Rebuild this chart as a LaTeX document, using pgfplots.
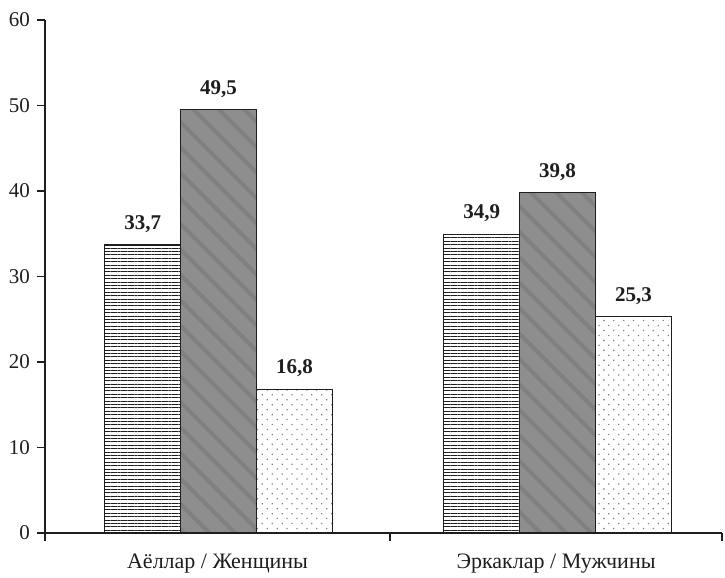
\documentclass[border=0pt]{standalone}
\usepackage{fontspec}
\setmainfont{Liberation Serif}
\usepackage{pgfplots}
\pgfplotsset{compat=1.18}
\usetikzlibrary{patterns.meta}
\definecolor{ink}{HTML}{1E1E1E}
\definecolor{bargray}{HTML}{8E8E8E}
\definecolor{streak}{HTML}{808080}
\begin{document}
\begin{tikzpicture}
\begin{axis}[
  scale only axis, width=338.5pt, height=256.5pt,
  xmin=-0.512, xmax=1.485, ymin=0, ymax=60,
  axis x line*=bottom, axis y line*=left,
  axis line style={line width=1pt, draw=ink},
  ybar, bar width=0.224,
  ytick={0,10,...,60},
  xtick={-0.512,0.506,1.485},
  x tick label as interval,
  xticklabels={Аёллар / Женщины, Эркаклар / Мужчины},
  tick align=outside, major tick length=4pt,
  tick style={line width=0.8pt, draw=ink},
  ticklabel style={font=\fontsize{10.5}{12}\selectfont, text=ink},
  x tick label style={yshift=-3pt, font=\fontsize{11}{13}\selectfont},
  /pgf/number format/assume math mode=true,
  nodes near coords={\pgfmathprintnumber[fixed,precision=1,fixed zerofill,use comma]{\pgfplotspointmeta}},
  nodes near coords style={font=\bfseries\fontsize{10.5}{12}\selectfont, text=ink, anchor=south, yshift=2.5pt},
  clip=false,
]
\coordinate (sw) at (rel axis cs:0,0);
\coordinate (ne) at (rel axis cs:1,1);
% series 1: horizontal lines
\addplot[bar shift=-0.224, draw=ink, line width=0.7pt,
  pattern={Lines[angle=0,distance=1.7pt,line width=0.5pt]}, pattern color=ink]
  coordinates {(0,33.7) (1,34.9)};
% series 2: grey base
\addplot[bar shift=0, draw=none, fill=bargray, nodes near coords={}]
  coordinates {(0,49.5) (1,39.8)};
% series 2: diagonal streaks overlay
\addplot[bar shift=0, draw=ink, line width=0.7pt,
  pattern={Lines[angle=-45,distance=9pt,line width=2pt]}, pattern color=streak]
  coordinates {(0,49.5) (1,39.8)};
% series 3: dots
\addplot[bar shift=0.224, draw=ink, line width=0.7pt,
  pattern={Dots[angle=45,distance=3.5pt,radius=0.45pt]}, pattern color=black!50]
  coordinates {(0,16.8) (1,25.3)};
\end{axis}
\pgfresetboundingbox
\path ([xshift=-22.5pt,yshift=-22.5pt]sw) rectangle ([xshift=1.5pt,yshift=10pt]ne);
\end{tikzpicture}
\end{document}
